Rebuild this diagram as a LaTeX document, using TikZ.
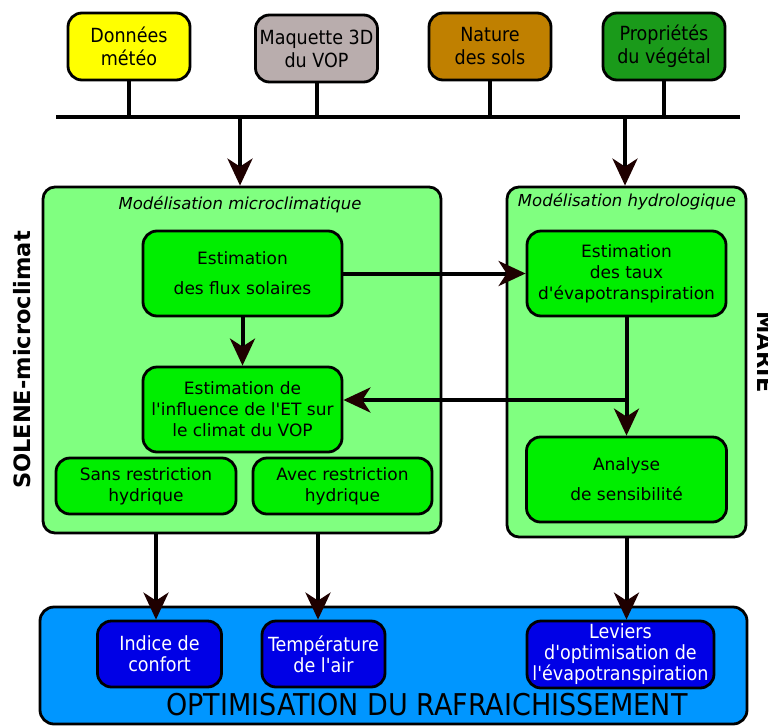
\documentclass[tikz,border=0pt]{standalone}
\usepackage{fontspec}
\newfontfamily\regf{DejaVu Sans}
\newfontfamily\condf{DejaVu Sans Condensed}
\usetikzlibrary{arrows.meta}
\definecolor{cyel}{RGB}{255,255,0}
\definecolor{cgrey}{RGB}{185,173,173}
\definecolor{cbrown}{RGB}{192,128,0}
\definecolor{cdgreen}{RGB}{26,154,26}
\definecolor{clight}{RGB}{128,255,128}
\definecolor{cgreen}{RGB}{0,238,0}
\definecolor{cblue}{RGB}{0,150,255}
\definecolor{cdblue}{RGB}{0,0,230}
\definecolor{carrow}{RGB}{30,0,0}
\begin{document}
\begin{tikzpicture}[x=1pt,y=-1pt,
  box/.style={draw=black, line width=2.8pt, rounded corners=14pt, align=center, inner sep=0pt},
  topbox/.style={box, minimum width=122pt, minimum height=67pt, font=\condf\fontsize{19.5}{23}\selectfont},
  bigbox/.style={box, fill=clight, rounded corners=12pt},
  gbox/.style={box, fill=cgreen, font=\regf\fontsize{17}{21}\selectfont},
  bbox/.style={box, fill=cdblue, text=white, font=\condf\fontsize{19.5}{21}\selectfont},
  ttl/.style={font=\regf\itshape\fontsize{16.5}{19}\selectfont},
  wire/.style={line width=4pt, draw=black},
  arr/.style={line width=4pt, draw=black, -{Stealth[length=27pt,width=25pt,inset=8pt,color=carrow]}}]
\useasboundingbox (0,0) rectangle (768,726);
% top boxes
\node[topbox, fill=cyel] (don) at (129,46.5) {Données\\météo};
\node[topbox, fill=cgrey] (maq) at (316.5,48.5) {Maquette 3D\\du VOP};
\node[topbox, fill=cbrown] (nat) at (490,46.5) {Nature\\des sols};
\node[topbox, fill=cdgreen] (pro) at (664,46.5) {Propriétés\\du végétal};
% bus
\coordinate (busL) at (56,117);
\coordinate (busR) at (740,117);
\draw[wire] (busL) -- (busR);
\foreach \n in {don,maq,nat,pro} \draw[wire] (\n.south) -- (\n.south |- busL);
% big boxes
\node[bigbox, minimum width=398pt, minimum height=346pt] (lbig) at (242,360) {};
\node[bigbox, minimum width=239pt, minimum height=350pt] (rbig) at (626.5,362) {};
\node[ttl] (lt) at (240,205) {Modélisation microclimatique};
\node[ttl] (rt) at (627,202) {Modélisation hydrologique};
\coordinate (d1) at (240,117);
\coordinate (d2) at (625,117);
\draw[arr] (d1) -- (d1 |- lbig.north);
\draw[arr] (d2) -- (d2 |- rbig.north);
% inner green
\node[gbox, minimum width=199pt, minimum height=85pt] (flux) at (242.5,273.5) {Estimation\\[9pt]des flux solaires};
\node[gbox, minimum width=199pt, minimum height=85pt] (taux) at (626.5,273.5) {Estimation\\des taux\\d'évapotranspiration};
\node[gbox, minimum width=199pt, minimum height=85pt] (infl) at (242.5,409.5) {Estimation de\\l'influence de l'ET sur\\le climat du VOP};
\node[gbox, minimum width=200pt, minimum height=85pt] (ana) at (626.5,479.5) {Analyse\\[9pt]de sensibilité};
\node[gbox, minimum width=180pt, minimum height=56pt] (sans) at (146,486) {Sans restriction\\hydrique};
\node[gbox, minimum width=179pt, minimum height=56pt] (avec) at (342.5,486) {Avec restriction\\hydrique};
\draw[arr] (flux.east) -- (taux.west);
\draw[arr] (flux.south) -- (infl.north);
\draw[arr] (taux.south) -- (ana.north);
\coordinate (j) at (626.5,400);
\draw[arr] (j) -- (j -| infl.east);
% bottom
\node[box, fill=cblue, minimum width=707pt, minimum height=117pt] (opt) at (393.5,665.5) {};
\node[bbox, minimum width=124pt, minimum height=66pt] (ind) at (159.5,654) {Indice de\\confort};
\node[bbox, minimum width=123pt, minimum height=66pt] (tem) at (323.5,654) {Température\\de l'air};
\node[bbox, minimum width=187pt, minimum height=67pt] (lev) at (620.5,654.5) {Leviers\\d'optimisation de\\l'évapotranspiration};
\node[font=\condf\fontsize{30}{34}\selectfont] (optt) at (427,705) {OPTIMISATION DU RAFRAICHISSEMENT};
\coordinate (e1) at (156,533);
\coordinate (e2) at (318,533);
\coordinate (e3) at (626.5,537);
\draw[arr] (e1) -- (e1 |- ind.north);
\draw[arr] (e2) -- (e2 |- tem.north);
\draw[arr] (e3) -- (e3 |- lev.north);
% side labels
\node[rotate=90, font=\regf\bfseries\fontsize{22.5}{26}\selectfont] (sol) at (22,360) {SOLENE-microclimat};
\node[rotate=-90, font=\regf\bfseries\fontsize{22.5}{26}\selectfont] (mar) at (766,352) {MARIE};
\end{tikzpicture}
\end{document}
